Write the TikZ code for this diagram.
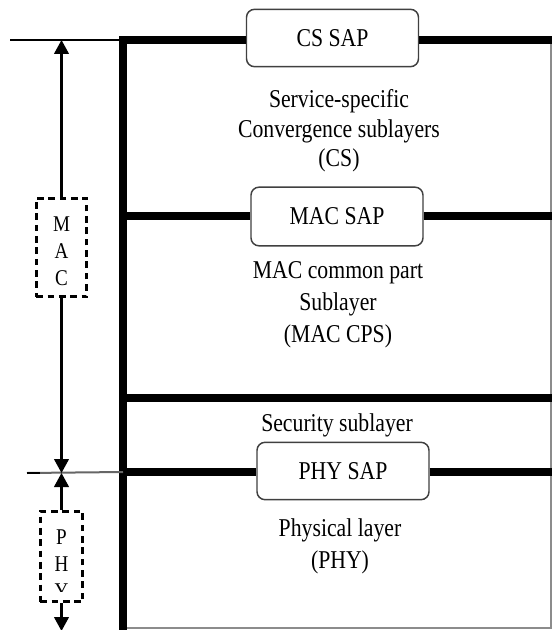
\documentclass[tikz,border=0pt]{standalone}
\usepackage{fontspec}
\setmainfont{Liberation Serif}
\usepackage{graphicx}
\usetikzlibrary{arrows.meta}
\newcommand\vs[1]{\scalebox{1}[1.18]{#1}}
\tikzset{
  thickline/.style={line width=5.3pt, line join=miter, line cap=butt},
  thinline/.style={line width=1.5pt},
  sapbox/.style={draw=black!75, line width=1.1pt, rounded corners=6pt, fill=white,
    minimum width=129pt, minimum height=43pt, inner sep=0pt,
    font=\fontsize{16.3}{24}\selectfont},
  lbl/.style={align=center, inner sep=0pt, font=\fontsize{16.3}{24}\selectfont},
  dbox/.style={draw=black, line width=2.3pt, dash pattern=on 5pt off 3.5pt,
    inner sep=0pt, align=center},
  ltr/.style={align=center, inner sep=0pt, font=\fontsize{14.3}{20.3}\selectfont},
  arr/.style={line width=1.6pt, -{Triangle[length=10.5pt, width=11pt]}},
}
\begin{document}
\begin{tikzpicture}[x=0.75pt, y=-0.75pt]
\useasboundingbox (0,0) rectangle (552,630);
\fill[white] (0,0) rectangle (552,630);

% coordinates
\coordinate (tl) at (123,40);
\coordinate (bl) at (123,632);
\coordinate (tr) at (552,40);
\coordinate (mr) at (552,216);
\coordinate (ml) at (123,216);
\coordinate (sl) at (123,398);
\coordinate (sr) at (552,398);
\coordinate (pl) at (123,472);
\coordinate (pr) at (552,472);
\coordinate (br) at (551,628);
\coordinate (bll) at (123,628);
\coordinate (rt) at (551,40);
\coordinate (topleft) at (10,40);
\coordinate (phyleft) at (27,473);
\coordinate (atop) at (61.5,40);
\coordinate (amid) at (61.5,473);
\coordinate (abot) at (61.5,631);

% right border and bottom
\draw[black!45, line width=1.3pt] (rt) -- (br) -- (bll);

% SAP boxes
\node[sapbox] (cs) at (332.5,38) {\vs{CS SAP}};
\node[sapbox, minimum height=44pt] (mac) at (337,216.5) {\vs{MAC SAP}};
\node[sapbox] (phy) at (343,471) {\vs{PHY SAP}};

% thick lines
\draw[thickline] (cs.west |- tl) -- (tl) -- (bl);
\draw[thickline] (cs.east |- tr) -- (tr);
\draw[thickline] (ml) -- (mac.west |- ml);
\draw[thickline] (mac.east |- mr) -- (mr);
\draw[thickline] (sl) -- (sr);
\draw[thickline] (pl) -- (phy.west |- pl);
\draw[thickline] (phy.east |- pr) -- (pr);

% thin lines on left
\draw[thinline] (topleft) -- (tl);
\draw[thinline, black!60] (phyleft) -- (pl);
\draw[thinline] (phyleft) -- (40,473);

% texts
\node[lbl, font=\fontsize{16.3}{22}\selectfont] (cstext) at (339,131) {\vs{Service-specific}\\\vs{Convergence sublayers}\\\vs{(CS)}};
\node[lbl] (cpstext) at (338,305) {\vs{MAC common part}\\\vs{Sublayer}\\\vs{(MAC CPS)}};
\node[lbl] (sectext) at (337,425) {\vs{Security sublayer}};
\node[lbl] (phytext) at (340,546) {\vs{Physical layer}\\\vs{(PHY)}};

% left dashed boxes
\node[dbox, minimum width=38pt, minimum height=74pt] (macb) at (61.5,247.5) {};
\node[ltr] (macletters) at (61.5,251) {\vs{M}\\\vs{A}\\\vs{C}};
\node[dbox, minimum width=32pt, minimum height=68pt] (phyb) at (61.5,556.5) {};
\begin{scope}
  \clip (42,513) rectangle (81,591);
  \node[ltr] (phyletters) at (61.5,564) {\vs{P}\\\vs{H}\\\vs{Y}};
\end{scope}

% arrows
\draw[arr] (macb.north) -- (atop);
\draw[arr] (macb.south) -- (amid);
\draw[arr] (phyb.north) -- (amid);
\draw[arr] (phyb.south) -- (abot);
\end{tikzpicture}
\end{document}
